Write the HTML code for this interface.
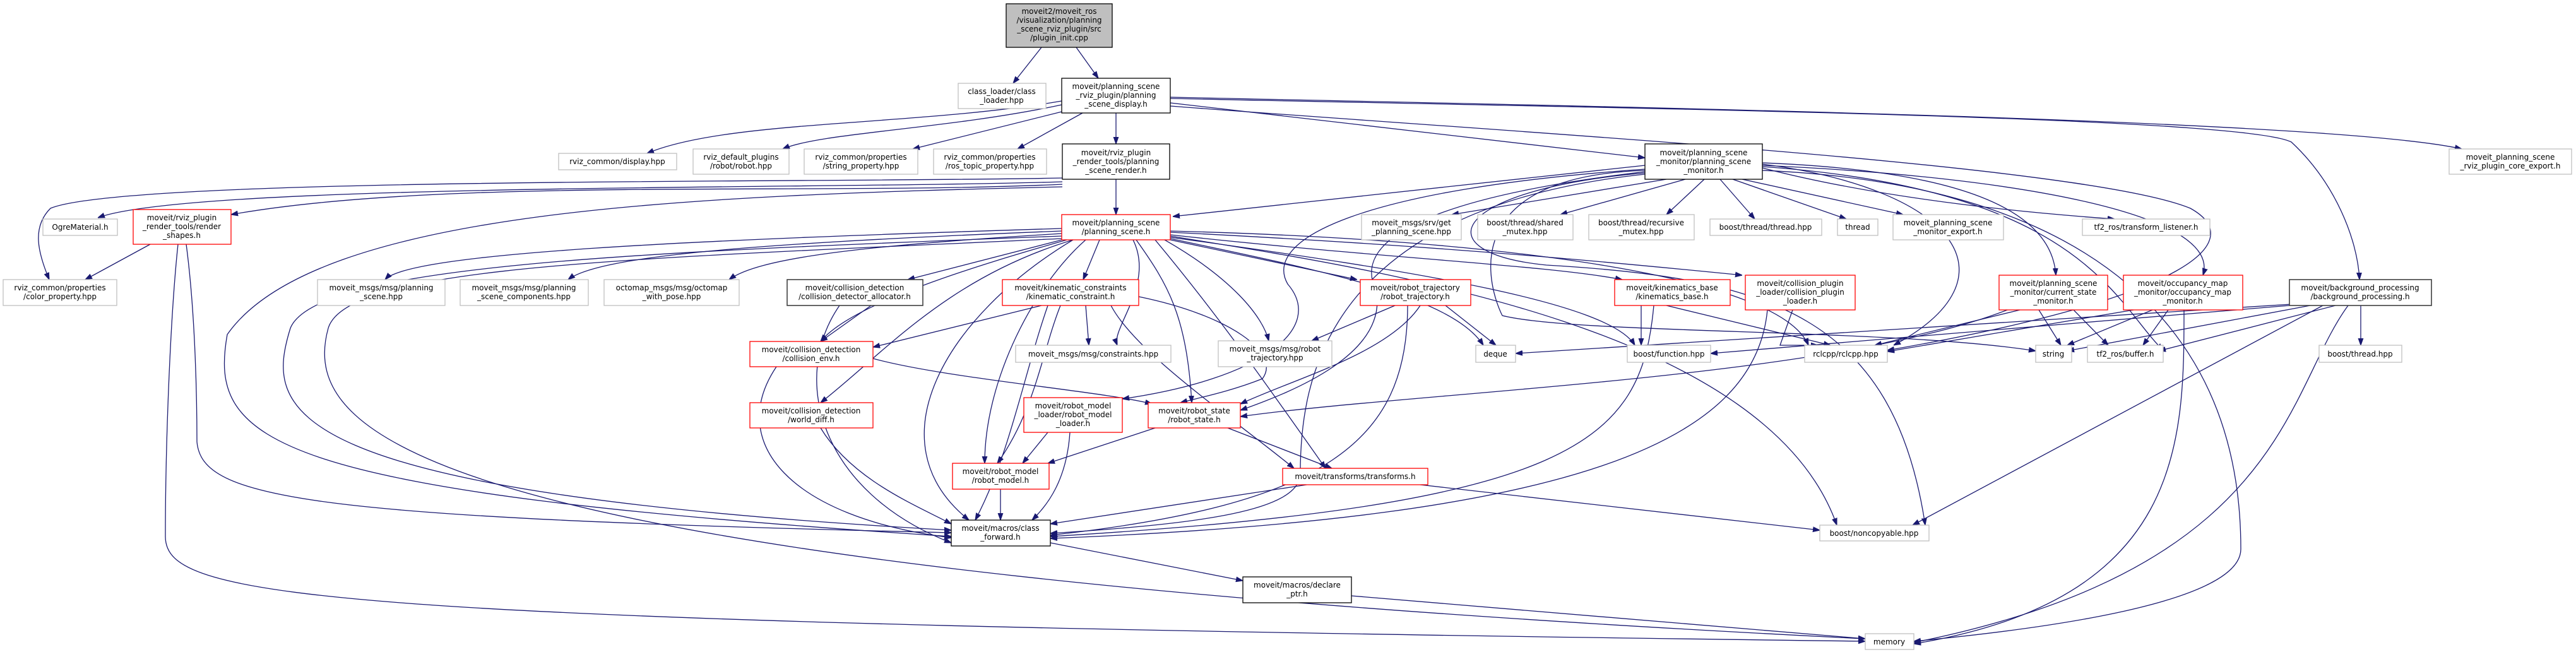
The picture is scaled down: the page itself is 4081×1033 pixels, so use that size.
<!DOCTYPE html>
<html><head><meta charset="utf-8">
<style>
html,body{margin:0;padding:0;background:#fff;}
svg{display:block;}
text{font-family:"DejaVu Sans","Liberation Sans",sans-serif;font-size:12px;fill:#000;}
.e{fill:none;stroke:#191970;stroke-width:1.3;}
.g{fill:#fff;stroke:#bfbfbf;stroke-width:1.3;}
.b{fill:#fff;stroke:#000;stroke-width:1.3;}
.r{fill:#fff;stroke:#ff0000;stroke-width:1.3;}
.d{fill:#fff;stroke:#404040;stroke-width:1.6;}
</style></head><body>
<svg width="4081" height="1033" viewBox="0 0 4081 1033" xmlns="http://www.w3.org/2000/svg">
<defs><marker id="a" viewBox="0 0 10 10" refX="10" refY="5" markerWidth="11" markerHeight="11" markerUnits="userSpaceOnUse" orient="auto"><path d="M0,1.5 L10,5 L0,8.5z" fill="#191970" stroke="#191970"/></marker></defs>
<g marker-end="url(#a)">
<!-- root -->
<path class="e" d="M1650,75 L1605,132"/>
<path class="e" d="M1705,75 L1740,124"/>
<!-- planning_scene_display -->
<path class="e" d="M1682,160 C1450,200 1150,190 1025,243"/>
<path class="e" d="M1682,166 C1500,205 1300,210 1240,236"/>
<path class="e" d="M1690,175 L1446,236"/>
<path class="e" d="M1715,179 L1612,236"/>
<path class="e" d="M1768,179 L1768,228"/>
<path class="e" d="M1854,163 L2606,250"/>
<path class="e" d="M1854,154 C2600,170 3700,190 3900,236"/>
<path class="e" d="M1854,156 C2600,172 3550,185 3630,225 C3700,290 3735,380 3738,443"/>
<path class="e" d="M1854,168 C2400,210 3300,260 3470,330 C3560,380 3480,470 2990,555"/>
<!-- planning_scene_render -->
<path class="e" d="M1683,282 C1300,290 200,280 80,330 C50,360 60,400 78,443"/>
<path class="e" d="M1683,288 C1300,300 300,290 155,345"/>
<path class="e" d="M1683,292 C1300,310 700,280 366,340"/>
<path class="e" d="M1683,296 C1100,310 500,330 360,530 C330,700 420,780 1507,850"/>
<path class="e" d="M1768,284 L1768,340"/>
<!-- render_shapes -->
<path class="e" d="M238,387 L135,443"/>
<path class="e" d="M282,387 C270,500 262,700 262,850 C262,950 500,985 2955,1016"/>
<path class="e" d="M295,387 C310,500 312,640 312,700 C320,790 480,820 1507,844"/>
<!-- planning_scene.h -->
<path class="e" d="M1682,362 C1100,380 650,400 610,443"/>
<path class="e" d="M1682,366 C1200,385 950,405 900,443"/>
<path class="e" d="M1682,370 C1350,390 1200,410 1155,443"/>
<path class="e" d="M1690,378 L1438,443"/>
<path class="e" d="M1742,380 L1716,443"/>
<path class="e" d="M1854,380 L2150,443"/>
<path class="e" d="M1854,372 C2200,410 2450,420 2570,443"/>
<path class="e" d="M1854,368 C2300,390 2600,420 2760,436"/>
<path class="e" d="M1854,366 C2400,380 2820,440 2865,547"/>
<path class="e" d="M1854,376 C2250,430 2550,480 2590,547"/>
<path class="e" d="M1854,378 C2100,430 2300,470 2350,547"/>
<path class="e" d="M1690,380 C1550,420 1350,480 1300,541"/>
<path class="e" d="M1700,380 C1500,440 1400,560 1300,638"/>
<path class="e" d="M1800,380 C1850,450 1880,500 1888,638"/>
<path class="e" d="M1720,380 C1640,450 1560,600 1560,734"/>
<path class="e" d="M1830,380 C1930,500 2000,600 2100,742"/>
<path class="e" d="M1795,380 C1830,450 1760,520 1770,547"/>
<path class="e" d="M1845,380 C1950,440 2000,500 2010,540"/>
<path class="e" d="M1700,380 C1500,500 1380,700 1535,824"/>
<path class="e" d="M1854,374 C2200,430 2800,520 2910,832"/>
<path class="e" d="M1682,374 C1000,400 500,420 460,520 C420,650 430,780 1507,840"/>
<path class="e" d="M1682,378 C1000,410 550,420 520,520 C470,700 700,900 2955,1012"/>
<!-- planning_scene_monitor -->
<path class="e" d="M2606,262 L1858,343"/>
<path class="e" d="M2640,284 L2300,340"/>
<path class="e" d="M2670,284 L2472,340"/>
<path class="e" d="M2700,284 L2640,340"/>
<path class="e" d="M2725,284 L2780,347"/>
<path class="e" d="M2745,284 L2925,347"/>
<path class="e" d="M2760,284 L3015,340"/>
<path class="e" d="M2792,266 C3000,320 3250,340 3350,347"/>
<path class="e" d="M2792,258 C3100,270 3250,330 3257,436"/>
<path class="e" d="M2792,262 C3200,280 3520,340 3490,436"/>
<path class="e" d="M2606,268 C2150,300 2000,380 2040,450 C2100,520 2000,600 1778,632"/>
<path class="e" d="M2606,272 C2200,320 2150,400 2180,460 C2200,560 2050,620 1965,650"/>
<path class="e" d="M2606,276 C2100,330 2060,600 2060,750 C2060,810 1900,830 1664,845"/>
<path class="e" d="M2606,274 C2300,300 2250,400 2450,420 C2800,440 3000,500 3050,832"/>
<path class="e" d="M2792,270 C3500,300 3550,700 3550,870 C3550,960 3200,1000 3032,1016"/>
<path class="e" d="M2792,260 C3100,300 3200,440 3000,547"/>
<path class="e" d="M2792,264 C3300,300 3350,480 3427,555"/>
<path class="e" d="M2606,270 C2300,280 2360,460 2380,500 C2500,530 3000,520 3225,556"/>
<!-- current_state_monitor -->
<path class="e" d="M3200,491 L2970,547"/>
<path class="e" d="M3230,491 L3265,547"/>
<path class="e" d="M3285,491 L3340,547"/>
<path class="e" d="M3180,491 C2900,600 2250,620 1965,660"/>
<!-- occupancy map -->
<path class="e" d="M3380,491 L2990,557"/>
<path class="e" d="M3410,491 L3275,547"/>
<path class="e" d="M3435,491 L3395,547"/>
<path class="e" d="M3460,491 C3460,700 3460,950 3032,1020"/>
<!-- background processing -->
<path class="e" d="M3627,484 L2710,560"/>
<path class="e" d="M3630,482 L2401,560"/>
<path class="e" d="M3660,484 L3275,556"/>
<path class="e" d="M3700,484 L3420,556"/>
<path class="e" d="M3740,484 L3740,547"/>
<path class="e" d="M3680,484 L3030,832"/>
<path class="e" d="M3720,484 C3620,620 3620,900 3032,1018"/>
<!-- kinematics_base -->
<path class="e" d="M2600,484 L2600,547"/>
<path class="e" d="M2640,484 L2900,547"/>
<path class="e" d="M2620,484 C2600,700 2500,800 1664,850"/>
<!-- collision_plugin_loader -->
<path class="e" d="M2840,491 L2820,547 L2880,547"/>
<path class="e" d="M2800,491 C2780,700 2500,820 1664,853"/>
<!-- robot_trajectory -->
<path class="e" d="M2210,484 L2078,540"/>
<path class="e" d="M2290,484 L2370,547"/>
<path class="e" d="M2250,484 C2200,560 2050,600 1965,640"/>
<path class="e" d="M2230,484 C2230,700 2100,800 1664,848"/>
<!-- kinematic_constraint -->
<path class="e" d="M1720,484 L1725,547"/>
<path class="e" d="M1650,484 L1383,550"/>
<path class="e" d="M1804,470 C1950,500 2030,560 2000,600 C1950,620 1900,630 1870,638"/>
<path class="e" d="M1680,484 C1650,560 1640,650 1580,734"/>
<path class="e" d="M1660,484 C1620,600 1600,720 1545,824"/>
<path class="e" d="M1760,484 C1800,560 1950,660 2050,742"/>
<!-- collision_detector_allocator -->
<path class="e" d="M1380,484 L1300,541"/>
<path class="e" d="M1330,484 C1250,600 1300,780 1507,860"/>
<!-- collision_env -->
<path class="e" d="M1383,568 C1500,600 1750,620 1825,640"/>
<path class="e" d="M1230,581 C1150,700 1250,820 1507,852"/>
<!-- world_diff -->
<path class="e" d="M1300,678 C1350,760 1450,800 1507,830"/>
<!-- robot_model_loader -->
<path class="e" d="M1660,685 L1620,734"/>
<path class="e" d="M1695,685 C1690,760 1660,800 1635,824"/>
<!-- robot_state -->
<path class="e" d="M1830,678 L1660,734"/>
<path class="e" d="M1945,678 L2110,742"/>
<!-- robot_model -->
<path class="e" d="M1585,775 L1585,824"/>
<!-- transforms -->
<path class="e" d="M2070,768 L1664,830"/>
<path class="e" d="M2250,768 L2883,840"/>
<!-- class_forward -->
<path class="e" d="M1664,860 L1969,920"/>
<!-- declare_ptr -->
<path class="e" d="M2141,944 L2955,1012"/>
</g>
<!-- nodes -->
<rect class="b" x="1594" y="6" width="168" height="69" style="fill:#bfbfbf"/>
<text text-anchor="middle"><tspan x="1678" y="22">moveit2/moveit_ros</tspan><tspan x="1678" y="36">/visualization/planning</tspan><tspan x="1678" y="50">_scene_rviz_plugin/src</tspan><tspan x="1678" y="64">/plugin_init.cpp</tspan></text>
<rect class="g" x="1518" y="132" width="139" height="40"/>
<text text-anchor="middle"><tspan x="1587" y="149">class_loader/class</tspan><tspan x="1587" y="163">_loader.hpp</tspan></text>
<rect class="b" x="1682" y="124" width="172" height="55"/>
<text text-anchor="middle"><tspan x="1768" y="141">moveit/planning_scene</tspan><tspan x="1768" y="155">_rviz_plugin/planning</tspan><tspan x="1768" y="169">_scene_display.h</tspan></text>
<rect class="g" x="885" y="243" width="187" height="26"/>
<text text-anchor="middle" x="978" y="260">rviz_common/display.hpp</text>
<rect class="g" x="1098" y="236" width="152" height="40"/>
<text text-anchor="middle"><tspan x="1174" y="253">rviz_default_plugins</tspan><tspan x="1174" y="267">/robot/robot.hpp</tspan></text>
<rect class="g" x="1274" y="236" width="180" height="40"/>
<text text-anchor="middle"><tspan x="1364" y="253">rviz_common/properties</tspan><tspan x="1364" y="267">/string_property.hpp</tspan></text>
<rect class="g" x="1479" y="236" width="179" height="40"/>
<text text-anchor="middle"><tspan x="1568" y="253">rviz_common/properties</tspan><tspan x="1568" y="267">/ros_topic_property.hpp</tspan></text>
<rect class="b" x="1683" y="228" width="170" height="56"/>
<text text-anchor="middle"><tspan x="1768" y="246">moveit/rviz_plugin</tspan><tspan x="1768" y="260">_render_tools/planning</tspan><tspan x="1768" y="274">_scene_render.h</tspan></text>
<rect class="b" x="2606" y="228" width="186" height="56"/>
<text text-anchor="middle"><tspan x="2699" y="246">moveit/planning_scene</tspan><tspan x="2699" y="260">_monitor/planning_scene</tspan><tspan x="2699" y="274">_monitor.h</tspan></text>
<rect class="g" x="3880" y="236" width="194" height="40"/>
<text text-anchor="middle"><tspan x="3977" y="253">moveit_planning_scene</tspan><tspan x="3977" y="267">_rviz_plugin_core_export.h</tspan></text>
<rect class="g" x="68" y="347" width="118" height="26"/>
<text text-anchor="middle" x="127" y="364">OgreMaterial.h</text>
<rect class="r" x="211" y="332" width="155" height="55"/>
<text text-anchor="middle"><tspan x="288" y="349">moveit/rviz_plugin</tspan><tspan x="288" y="363">_render_tools/render</tspan><tspan x="288" y="377">_shapes.h</tspan></text>
<rect class="r" x="1682" y="340" width="172" height="40"/>
<text text-anchor="middle"><tspan x="1768" y="357">moveit/planning_scene</tspan><tspan x="1768" y="371">/planning_scene.h</tspan></text>
<rect class="g" x="2157" y="340" width="158" height="40"/>
<text text-anchor="middle"><tspan x="2236" y="357">moveit_msgs/srv/get</tspan><tspan x="2236" y="371">_planning_scene.hpp</tspan></text>
<rect class="g" x="2341" y="340" width="151" height="40"/>
<text text-anchor="middle"><tspan x="2416" y="357">boost/thread/shared</tspan><tspan x="2416" y="371">_mutex.hpp</tspan></text>
<rect class="g" x="2517" y="340" width="167" height="40"/>
<text text-anchor="middle"><tspan x="2600" y="357">boost/thread/recursive</tspan><tspan x="2600" y="371">_mutex.hpp</tspan></text>
<rect class="g" x="2709" y="347" width="177" height="26"/>
<text text-anchor="middle" x="2797" y="364">boost/thread/thread.hpp</text>
<rect class="g" x="2911" y="347" width="64" height="26"/>
<text text-anchor="middle" x="2943" y="364">thread</text>
<rect class="g" x="2999" y="340" width="175" height="40"/>
<text text-anchor="middle"><tspan x="3086" y="357">moveit_planning_scene</tspan><tspan x="3086" y="371">_monitor_export.h</tspan></text>
<rect class="g" x="3299" y="347" width="202" height="26"/>
<text text-anchor="middle" x="3400" y="364">tf2_ros/transform_listener.h</text>
<rect class="g" x="5" y="443" width="180" height="41"/>
<text text-anchor="middle"><tspan x="95" y="460">rviz_common/properties</tspan><tspan x="95" y="474">/color_property.hpp</tspan></text>
<rect class="g" x="503" y="443" width="202" height="41"/>
<text text-anchor="middle"><tspan x="604" y="460">moveit_msgs/msg/planning</tspan><tspan x="604" y="474">_scene.hpp</tspan></text>
<rect class="g" x="729" y="443" width="203" height="41"/>
<text text-anchor="middle"><tspan x="830" y="460">moveit_msgs/msg/planning</tspan><tspan x="830" y="474">_scene_components.hpp</tspan></text>
<rect class="g" x="957" y="443" width="214" height="41"/>
<text text-anchor="middle"><tspan x="1064" y="460">octomap_msgs/msg/octomap</tspan><tspan x="1064" y="474">_with_pose.hpp</tspan></text>
<rect class="d" x="1247" y="443" width="215" height="41"/>
<text text-anchor="middle"><tspan x="1354" y="460">moveit/collision_detection</tspan><tspan x="1354" y="474">/collision_detector_allocator.h</tspan></text>
<rect class="r" x="1588" y="443" width="216" height="41"/>
<text text-anchor="middle"><tspan x="1696" y="460">moveit/kinematic_constraints</tspan><tspan x="1696" y="474">/kinematic_constraint.h</tspan></text>
<rect class="r" x="2155" y="443" width="175" height="41"/>
<text text-anchor="middle"><tspan x="2242" y="460">moveit/robot_trajectory</tspan><tspan x="2242" y="474">/robot_trajectory.h</tspan></text>
<rect class="r" x="2558" y="443" width="183" height="41"/>
<text text-anchor="middle"><tspan x="2649" y="460">moveit/kinematics_base</tspan><tspan x="2649" y="474">/kinematics_base.h</tspan></text>
<rect class="r" x="2765" y="436" width="174" height="55"/>
<text text-anchor="middle"><tspan x="2852" y="453">moveit/collision_plugin</tspan><tspan x="2852" y="467">_loader/collision_plugin</tspan><tspan x="2852" y="481">_loader.h</tspan></text>
<rect class="r" x="3167" y="436" width="172" height="55"/>
<text text-anchor="middle"><tspan x="3253" y="453">moveit/planning_scene</tspan><tspan x="3253" y="467">_monitor/current_state</tspan><tspan x="3253" y="481">_monitor.h</tspan></text>
<rect class="r" x="3364" y="436" width="189" height="55"/>
<text text-anchor="middle"><tspan x="3458" y="453">moveit/occupancy_map</tspan><tspan x="3458" y="467">_monitor/occupancy_map</tspan><tspan x="3458" y="481">_monitor.h</tspan></text>
<rect class="d" x="3627" y="443" width="225" height="41"/>
<text text-anchor="middle"><tspan x="3739" y="460">moveit/background_processing</tspan><tspan x="3739" y="474">/background_processing.h</tspan></text>
<rect class="r" x="1188" y="541" width="195" height="40"/>
<text text-anchor="middle"><tspan x="1285" y="558">moveit/collision_detection</tspan><tspan x="1285" y="572">/collision_env.h</tspan></text>
<rect class="g" x="1609" y="547" width="246" height="27"/>
<text text-anchor="middle" x="1732" y="565">moveit_msgs/msg/constraints.hpp</text>
<rect class="g" x="1930" y="540" width="180" height="41"/>
<text text-anchor="middle"><tspan x="2020" y="557">moveit_msgs/msg/robot</tspan><tspan x="2020" y="571">_trajectory.hpp</tspan></text>
<rect class="g" x="2338" y="547" width="63" height="27"/>
<text text-anchor="middle" x="2369" y="565">deque</text>
<rect class="g" x="2578" y="547" width="132" height="27"/>
<text text-anchor="middle" x="2644" y="565">boost/function.hpp</text>
<rect class="g" x="2859" y="547" width="131" height="27"/>
<text text-anchor="middle" x="2924" y="565">rclcpp/rclcpp.hpp</text>
<rect class="g" x="3225" y="547" width="57" height="27"/>
<text text-anchor="middle" x="3253" y="565">string</text>
<rect class="g" x="3307" y="547" width="120" height="27"/>
<text text-anchor="middle" x="3367" y="565">tf2_ros/buffer.h</text>
<rect class="g" x="3674" y="547" width="131" height="27"/>
<text text-anchor="middle" x="3739" y="565">boost/thread.hpp</text>
<rect class="r" x="1188" y="638" width="195" height="40"/>
<text text-anchor="middle"><tspan x="1285" y="655">moveit/collision_detection</tspan><tspan x="1285" y="669">/world_diff.h</tspan></text>
<rect class="r" x="1622" y="630" width="156" height="55"/>
<text text-anchor="middle"><tspan x="1700" y="647">moveit/robot_model</tspan><tspan x="1700" y="661">_loader/robot_model</tspan><tspan x="1700" y="675">_loader.h</tspan></text>
<rect class="r" x="1819" y="638" width="146" height="40"/>
<text text-anchor="middle"><tspan x="1892" y="655">moveit/robot_state</tspan><tspan x="1892" y="669">/robot_state.h</tspan></text>
<rect class="r" x="1509" y="734" width="153" height="41"/>
<text text-anchor="middle"><tspan x="1585" y="751">moveit/robot_model</tspan><tspan x="1585" y="765">/robot_model.h</tspan></text>
<rect class="r" x="2032" y="742" width="230" height="26"/>
<text text-anchor="middle" x="2147" y="759">moveit/transforms/transforms.h</text>
<rect class="b" x="1507" y="824" width="157" height="41"/>
<text text-anchor="middle"><tspan x="1585" y="841">moveit/macros/class</tspan><tspan x="1585" y="855">_forward.h</tspan></text>
<rect class="g" x="2883" y="832" width="173" height="25"/>
<text text-anchor="middle" x="2969" y="849">boost/noncopyable.hpp</text>
<rect class="b" x="1969" y="914" width="172" height="41"/>
<text text-anchor="middle"><tspan x="2055" y="931">moveit/macros/declare</tspan><tspan x="2055" y="945">_ptr.h</tspan></text>
<rect class="g" x="2955" y="1004" width="77" height="25"/>
<text text-anchor="middle" x="2993" y="1021">memory</text>
</svg>
</body></html>
